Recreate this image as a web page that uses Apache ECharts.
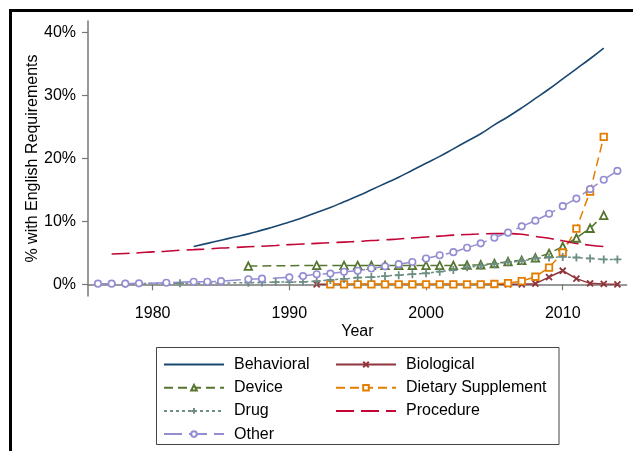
<!DOCTYPE html>
<html>
<head>
<meta charset="utf-8">
<script src="https://cdn.jsdelivr.net/npm/echarts@6/dist/echarts.min.js"></script>
<style>html,body{margin:0;padding:0;background:#fff;}#c{width:633px;height:451px;}</style>
</head>
<body>
<div id="c"></div>
<script>
const xTicks = [1980, 1990, 2000, 2010];
const yTicks = [0, 10, 20, 30, 40];

const behavioralYears = [1983,1984,1985,1986,1987,1988,1989,1990,1991,1992,1993,1994,1995,1996,1997,1998,1999,2000,2001,2002,2003,2004,2005,2006,2007,2008,2009,2010,2011,2012,2013];
const behavioralValues = [6.0,6.5,7.0,7.5,8.0,8.6,9.2,9.9,10.6,11.4,12.2,13.1,14.0,15.0,16.0,17.0,18.1,19.2,20.3,21.5,22.7,23.9,25.3,26.6,28.0,29.5,31.0,32.6,34.2,35.8,37.5];

const biologicalYears = [1992,1993,1994,1995,1996,1997,1998,1999,2000,2001,2002,2003,2004,2005,2006,2007,2008,2009,2010,2011,2012,2013,2014];
const biologicalValues = [0,0,0,0,0,0,0,0,0,0,0,0,0,0,0,0,0.1,1.15,2.15,0.9,0.15,0.05,0.0];

const deviceYears = [1987,1992,1994,1995,1996,1997,1998,1999,2000,2001,2002,2003,2004,2005,2006,2007,2008,2009,2010,2011,2012,2013];
const deviceValues = [2.9,3.0,3.0,3.0,3.0,3.0,3.0,3.0,3.0,3.0,3.0,3.05,3.1,3.3,3.6,3.8,4.2,4.9,6.0,7.35,8.9,10.95];

const dietaryYears = [1993,1994,1995,1996,1997,1998,1999,2000,2001,2002,2003,2004,2005,2006,2007,2008,2009,2010,2011,2012,2013];
const dietaryValues = [0,0,0,0,0,0,0,0,0,0,0,0,0.05,0.2,0.5,1.2,2.65,5.05,8.85,14.7,23.4];

const drugYears = [1978,1982,1987,1988,1989,1990,1991,1992,1993,1994,1995,1996,1997,1998,1999,2000,2001,2002,2003,2004,2005,2006,2007,2008,2009,2010,2011,2012,2013,2014];
const drugValues = [0.1,0.15,0.25,0.3,0.35,0.35,0.4,0.5,0.7,0.85,1.05,1.15,1.3,1.45,1.6,1.75,2.0,2.25,2.7,2.95,3.2,3.5,3.7,4.1,4.25,4.35,4.25,4.1,3.95,3.95];

const procedureYears = [1977,1978,1979,1980,1981,1982,1983,1984,1985,1986,1987,1988,1989,1990,1991,1992,1993,1994,1995,1996,1997,1998,1999,2000,2001,2002,2003,2004,2005,2006,2007,2008,2009,2010,2011,2012,2013];
const procedureValues = [4.8,4.9,5.0,5.15,5.25,5.4,5.5,5.6,5.75,5.85,5.95,6.05,6.15,6.3,6.4,6.5,6.6,6.7,6.8,6.95,7.05,7.2,7.35,7.5,7.65,7.8,7.9,8.0,8.05,8.05,7.95,7.6,7.3,6.9,6.5,6.2,6.0];

const otherYears = [1976,1977,1978,1979,1981,1983,1984,1985,1987,1988,1990,1991,1992,1993,1994,1995,1996,1997,1998,1999,2000,2001,2002,2003,2004,2005,2006,2007,2008,2009,2010,2011,2012,2013,2014];
const otherValues = [0.1,0.1,0.1,0.15,0.25,0.4,0.4,0.5,0.8,0.9,1.1,1.3,1.6,1.7,2.0,2.15,2.5,2.85,3.2,3.55,4.1,4.6,5.1,5.8,6.5,7.4,8.2,9.2,10.1,11.2,12.4,13.6,15.1,16.6,18.0];

const pairs = (xs, ys) => xs.map((x, i) => [x, ys[i]]);
const FONT = 'Liberation Sans, Arial, sans-serif';

const C = {
  behavioral: '#1a476f', biological: '#90353b', device: '#55752f',
  dietary: '#e37e00', drug: '#6e8e84', procedure: '#c10534', other: '#938dd2'
};

const xPath = 'path://M0,0L10,10M10,0L0,10';
const plusPath = 'path://M5,0L5,10M0,5L10,5';

const series = [
  {name:'Behavioral', type:'line', data: pairs(behavioralYears, behavioralValues), symbol:'none', smooth:true,
   lineStyle:{color:C.behavioral, width:1.6}, itemStyle:{color:C.behavioral}},
  {name:'Biological', type:'line', data: pairs(biologicalYears, biologicalValues), symbol: xPath, symbolSize:6,
   lineStyle:{color:C.biological, width:1.5}, itemStyle:{color:C.biological, borderColor:C.biological, borderWidth:1.8}},
  {name:'Device', type:'line', data: pairs(deviceYears, deviceValues), symbol:'triangle', symbolSize:7.5,
   lineStyle:{color:C.device, width:1.5, type:[9,5]}, itemStyle:{color:'#fff', borderColor:C.device, borderWidth:1.8}},
  {name:'Dietary Supplement', type:'line', data: pairs(dietaryYears, dietaryValues), symbol:'rect', symbolSize:6.5,
   lineStyle:{color:C.dietary, width:1.5, type:[9,5]}, itemStyle:{color:'#fff', borderColor:C.dietary, borderWidth:1.8}},
  {name:'Drug', type:'line', data: pairs(drugYears, drugValues), symbol: plusPath, symbolSize:8,
   lineStyle:{color:C.drug, width:1.5, type:[3,3]}, itemStyle:{color:C.drug, borderColor:C.drug, borderWidth:1.8}},
  {name:'Procedure', type:'line', data: pairs(procedureYears, procedureValues), symbol:'none', smooth:true,
   lineStyle:{color:C.procedure, width:1.6, type:[18,7]}, itemStyle:{color:C.procedure}},
  {name:'Other', type:'line', data: pairs(otherYears, otherValues), symbol:'circle', symbolSize:6.5,
   lineStyle:{color:C.other, width:1.5, type:[18,7]}, itemStyle:{color:'#fff', borderColor:C.other, borderWidth:1.6}}
];
series.forEach(s => { s.animation = false; s.showSymbol = s.symbol !== 'none'; });

const legendCommon = {
  orient:'vertical', itemWidth:60, itemHeight:7, itemGap:7.2, padding:0, selectedMode:false,
  textStyle:{fontFamily:FONT, fontSize:16, color:'#000', lineHeight:15, padding:[0,0,0,5]}
};

const chart = echarts.init(document.getElementById('c'), null, {renderer:'canvas'});
chart.setOption({
  animation:false,
  backgroundColor:'#fff',
  grid:{left:88, right:6.3, top:21, bottom:155, containLabel:false},
  xAxis:{
    type:'value', min:1975.27, max:2014.68,
    name:'Year', nameLocation:'middle', nameGap:28, nameMoveOverlap:false,
    nameTextStyle:{fontFamily:FONT, fontSize:16, color:'#000'},
    axisLine:{show:true, lineStyle:{color:'#777', width:1.5}},
    axisTick:{show:true, length:6, lineStyle:{color:'#777', width:1.2}, customValues:xTicks},
    axisLabel:{fontFamily:FONT, fontSize:16, color:'#000', margin:10, customValues:xTicks, formatter: v => String(v)},
    splitLine:{show:false}
  },
  yAxis:{
    type:'value', min:-1.857, max:41.79,
    name:'% with English Requirements', nameLocation:'middle', nameGap:47, nameRotate:90, nameMoveOverlap:false,
    nameTextStyle:{fontFamily:FONT, fontSize:16, color:'#000'},
    axisLine:{show:true, lineStyle:{color:'#777', width:1.5}},
    axisTick:{show:true, length:6, lineStyle:{color:'#777', width:1.2}, customValues:yTicks},
    axisLabel:{fontFamily:FONT, fontSize:16, color:'#000', margin:12, customValues:yTicks, formatter:'{value}%'},
    splitLine:{show:false}
  },
  legend:[
    Object.assign({}, legendCommon, {left:163, top:356.5,
      data:[{name:'Behavioral', itemStyle:{opacity:0}}, 'Device', 'Drug', 'Other']}),
    Object.assign({}, legendCommon, {left:335, top:356.5,
      data:['Biological', 'Dietary Supplement', {name:'Procedure', itemStyle:{opacity:0}}]})
  ],
  graphic:[
    {type:'rect', silent:true, shape:{x:10.5, y:10.5, width:700, height:600}, style:{fill:'none', stroke:'#000', lineWidth:3}},
    {type:'rect', silent:true, shape:{x:156.5, y:347.5, width:402.5, height:97}, style:{fill:'none', stroke:'#444', lineWidth:1}}
  ],
  series: series
});
</script>
</body>
</html>
